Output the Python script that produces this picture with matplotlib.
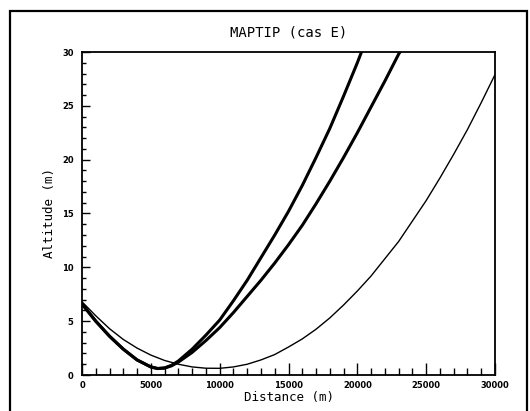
import matplotlib
matplotlib.use("Agg")
import matplotlib.pyplot as plt
from matplotlib.ticker import MultipleLocator
from matplotlib.patches import Rectangle

# --- data (distance in m, altitude in m) ---
thick_a_x = [0, 1000, 2000, 3000, 4000, 5000, 5500, 6000, 6500, 7000, 8000, 9000,
             10000, 11000, 12000, 13000, 14000, 15000, 16000, 17000, 18000, 19000,
             20000, 20300]
thick_a_y = [6.6, 5.0, 3.6, 2.4, 1.4, 0.75, 0.6, 0.65, 0.9, 1.3, 2.4, 3.7,
             5.1, 6.9, 8.8, 10.9, 13.0, 15.2, 17.6, 20.2, 22.9, 25.9,
             29.0, 30.0]

thick_b_x = [0, 1000, 2000, 3000, 4000, 5000, 5500, 6000, 6500, 7000, 8000, 9000,
             10000, 11000, 12000, 13000, 14000, 15000, 16000, 17000, 18000, 19000,
             20000, 21000, 22000, 23000, 23100]
thick_b_y = [6.6, 5.0, 3.6, 2.4, 1.4, 0.75, 0.6, 0.65, 0.85, 1.2, 2.1, 3.2,
             4.4, 5.8, 7.3, 8.8, 10.4, 12.1, 13.9, 15.9, 18.0, 20.2,
             22.5, 24.9, 27.3, 29.8, 30.0]

thin_x = [0, 1000, 2000, 3000, 4000, 5000, 6000, 7000, 8000, 9000, 10000,
          11000, 12000, 13000, 14000, 15000, 16000, 17000, 18000, 19000, 20000,
          21000, 22000, 23000, 24000, 25000, 26000, 27000, 28000, 29000, 30000]
thin_y = [6.8, 5.5, 4.3, 3.3, 2.5, 1.85, 1.35, 1.0, 0.75, 0.63, 0.62,
          0.75, 1.0, 1.4, 1.9, 2.6, 3.35, 4.25, 5.3, 6.5, 7.8,
          9.2, 10.8, 12.4, 14.3, 16.2, 18.3, 20.5, 22.8, 25.3, 27.9]

x_ticks = [0, 5000, 10000, 15000, 20000, 25000, 30000]
y_ticks = [0, 5, 10, 15, 20, 25, 30]

W, H = 530, 411
fig = plt.figure(figsize=(W / 100, H / 100), dpi=100)

# outer frame
fig.patches.append(Rectangle((10 / W, -0.05), (527 - 10) / W, (H - 11) / H + 0.05,
                             transform=fig.transFigure, fill=False,
                             edgecolor="black", linewidth=1.6))

ax = fig.add_axes([82 / W, (H - 375) / H, (495 - 82) / W, (375 - 52) / H])
ax.plot(thin_x, thin_y, color="black", linewidth=1.0)
ax.plot(thick_a_x, thick_a_y, color="black", linewidth=2.2)
ax.plot(thick_b_x, thick_b_y, color="black", linewidth=2.2)

ax.set_xlim(0, 30000)
ax.set_ylim(0, 30)
ax.set_xticks(x_ticks)
ax.set_yticks(y_ticks)
ax.set_xticklabels([str(v) for v in x_ticks])
ax.set_yticklabels([str(v) for v in y_ticks])
ax.xaxis.set_minor_locator(MultipleLocator(1000))
ax.yaxis.set_minor_locator(MultipleLocator(1))
ax.tick_params(axis="x", which="major", direction="in", length=9, width=1.0,
               labelsize=6, pad=4, top=False)
ax.tick_params(axis="x", which="minor", direction="in", length=5, width=1.0, top=False)
ax.tick_params(axis="y", which="major", direction="in", length=6, width=1.0,
               labelsize=6, pad=6, right=False)
ax.tick_params(axis="y", which="minor", direction="in", length=3, width=1.0, right=False)
for lab in ax.get_xticklabels() + ax.get_yticklabels():
    lab.set_fontweight("bold")
for s in ax.spines.values():
    s.set_linewidth(1.3)

mono = "DejaVu Sans Mono"
fig.text((82 + 495) / 2 / W, 1 - 33 / H, "MAPTIP (cas E)", ha="center", va="center",
         fontsize=10, family=mono)
ax.set_xlabel("Distance (m)", family=mono, fontsize=9, labelpad=1)
ax.set_ylabel("Altitude (m)", family=mono, fontsize=9, labelpad=4)

fig.savefig("out.png", dpi=100)
